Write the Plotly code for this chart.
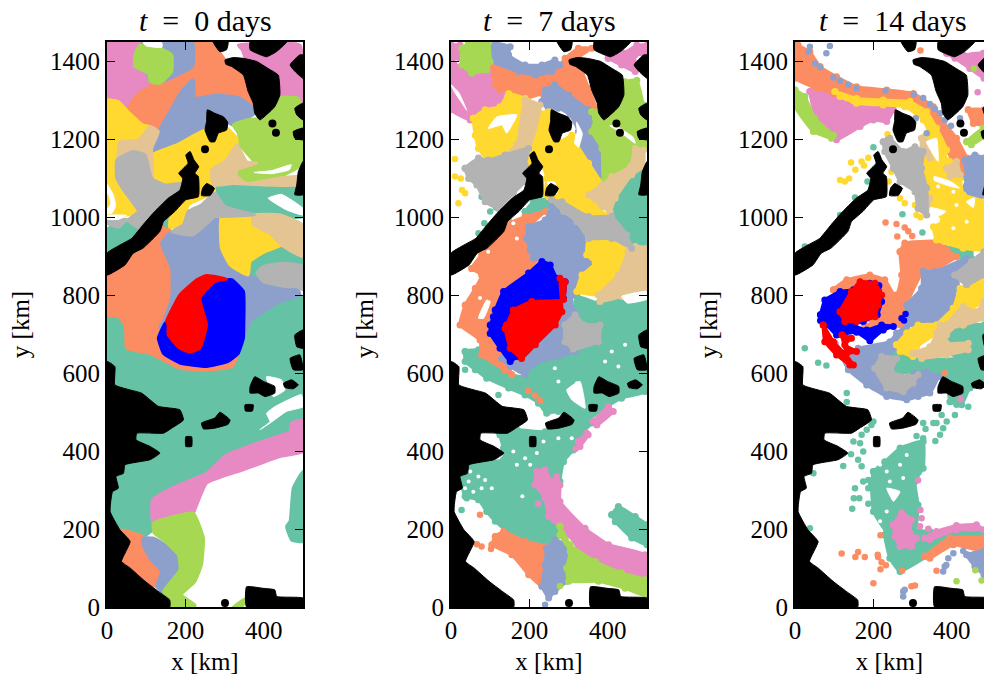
import plotly.graph_objects as go

# ---- colours
TEAL, ORANGE, PERI, PINK = "#66c2a5", "#fc8d62", "#8da0cb", "#e78ac3"
LIME, YELLOW, TAN, GRAY = "#a6d854", "#ffd92f", "#e5c494", "#b3b3b3"
BLUE, RED, LAND, GAP = "#0000ff", "#ff0000", "#000000", "#ffffff"

titles = ["0", "7", "14"]
y_ticks = [0, 200, 400, 600, 800, 1000, 1200, 1400]
x_ticks = [0, 200, 400]

# ---- land mask, km
land = [
 [(301,1404),(322,1410),(348,1408),(382,1400),(411,1382),(437,1365),(441,1314),(428,1284),(411,1267),(390,1250),(377,1267),(373,1293),(360,1323),(348,1365),(318,1387),(303,1393)],
 [(271,1450),(309,1450),(305,1430),(288,1425)],
 [(365,1450),(458,1450),(432,1425),(407,1412),(382,1421),(365,1430)],
 [(467,1391),(492,1417),(500,1417),(500,1357),(480,1374)],
 [(479,1280),(500,1293),(500,1250),(484,1263)],
 [(475,1220),(500,1229),(500,1199),(479,1203)],
 [(488,1117),(500,1143),(500,1058),(479,1058),(484,1083)],
 [(256,1276),(275,1267),(297,1258),(308,1244),(305,1224),(284,1216),(275,1194),(263,1194),(250,1224),(254,1246)],
 [(0,908),(33,929),(63,946),(92,981),(118,1011),(156,1049),(186,1070),(193,1100),(183,1113),(207,1139),(201,1160),(212,1169),(222,1147),(234,1130),(224,1113),(233,1105),(233,1053),(201,1045),(173,1015),(144,989),(135,964),(92,921),(67,908),(46,878),(0,852)],
 [(244,1075),(254,1087),(274,1075),(263,1056),(241,1056)],
 [(479,698),(500,711),(500,664),(484,668)],
 [(467,638),(492,647),(500,609),(475,609)],
 [(365,566),(377,591),(399,579),(428,566),(428,549),(403,540),(386,549),(365,549)],
 [(450,574),(471,583),(488,570),(475,560),(454,563)],
 [(352,519),(373,519),(371,503),(353,503)],
 [(241,472),(275,485),(288,500),(314,480),(309,469),(275,459),(246,457)],
 [(201,437),(216,437),(216,412),(201,412)],
 [(0,630),(20,617),(20,570),(59,557),(88,549),(131,515),(186,506),(195,480),(165,459),(144,446),(76,446),(74,429),(110,412),(135,395),(110,378),(46,365),(42,343),(23,335),(29,305),(14,296),(8,245),(33,198),(59,168),(37,117),(59,100),(97,66),(131,40),(160,18),(160,0),(0,0)],
 [(356,52),(398,48),(428,44),(433,27),(500,23),(500,0),(356,0)],
]
land_dots_x = [422, 431, 250, 301]
land_dots_y = [1241, 1217, 1175, 10]

# ---- t = 0 days, km
p1_teal = [
 [(0,750),(30,750),(46,730),(48,703),(50,664),(110,651),(135,638),(186,613),(246,608),(318,617),(335,651),(350,700),(365,733),(441,784),(492,801),(500,790),(500,450),(407,429),(305,390),(254,343),(165,305),(116,275),(118,200),(92,181),(33,198),(0,240)],
 [(280,1079),(322,1087),(484,1083),(500,1053),(500,1002),(377,1006),(301,1028),(284,1058)],
 [(0,970),(50,985),(100,1005),(160,1003),(162,975),(140,960),(90,925),(0,905)],
 [(360,852),(369,895),(441,925),(500,899),(500,874),(450,882),(399,874),(382,857),(399,835)],
 [(500,348),(475,305),(467,220),(458,207),(471,172),(500,168)],
]
p1_pink = [
 [(0,1450),(92,1450),(92,1430),(122,1340),(67,1314),(54,1280),(0,1301)],
 [(335,1442),(492,1442),(500,1293),(441,1300),(437,1365),(360,1390),(345,1430)],
 [(116,275),(165,305),(254,343),(305,390),(407,429),(467,450),(471,472),(500,480),(500,399),(441,386),(348,352),(254,318),(224,249),(220,241),(118,215)],
]
p1_orange = [
 [(218,1450),(267,1450),(301,1404),(348,1361),(360,1323),(380,1276),(339,1306),(280,1314),(224,1306),(220,1357)],
 [(54,1276),(76,1314),(118,1340),(144,1357),(182,1374),(216,1387),(216,1357),(190,1323),(165,1280),(135,1211),(92,1237)],
 [(0,875),(46,900),(67,925),(92,940),(135,975),(165,963),(139,934),(165,869),(165,793),(152,728),(135,681),(144,656),(186,621),(237,617),(280,617),(335,651),(318,617),(246,608),(186,613),(135,638),(110,651),(50,664),(48,703),(46,724),(30,745),(0,750)],
 [(33,198),(92,181),(92,164),(110,125),(139,91),(127,53),(97,66),(59,100),(37,117),(59,168)],
]
p1_peri = [
 [(92,1450),(218,1450),(218,1387),(139,1348),(110,1348)],
 [(220,1353),(224,1306),(280,1314),(339,1306),(382,1271),(322,1237),(309,1244),(275,1267),(256,1276),(250,1224),(212,1207),(178,1186),(131,1169),(116,1164),(118,1194),(165,1280),(190,1323)],
 [(165,963),(220,955),(275,1002),(292,1002),(292,921),(314,878),(360,852),(399,835),(458,822),(484,822),(492,801),(441,784),(365,733),(350,700),(300,700),(150,690),(135,720),(144,733),(165,793),(165,869),(139,934)],
 [(92,177),(118,177),(156,155),(186,125),(186,95),(160,66),(144,36),(127,53),(139,91),(110,125),(92,160)],
]
p1_lime = [
 [(71,1417),(84,1442),(144,1430),(165,1417),(165,1374),(135,1344),(110,1348),(105,1370),(71,1387)],
 [(322,1237),(356,1250),(386,1254),(428,1280),(441,1306),(488,1306),(500,1254),(500,1139),(484,1126),(433,1100),(356,1087),(331,1105),(331,1122),(377,1139),(339,1186),(335,1216)],
 [(118,215),(220,241),(246,177),(241,108),(224,65),(190,31),(224,6),(224,0),(156,0),(156,23),(144,40),(186,95),(182,134),(144,172),(120,190)],
 [(322,0),(356,23),(343,0)],
]
p1_yellow = [
 [(0,1301),(29,1297),(54,1271),(92,1237),(110,1233),(80,1198),(33,1194),(25,1147),(25,1100),(42,1070),(80,1015),(50,1006),(0,1006)],
 [(115,1160),(178,1186),(250,1224),(305,1229),(331,1203),(331,1186),(305,1147),(267,1122),(267,1083),(275,1066),(241,1049),(207,1032),(195,981),(160,974),(162,1002),(200,1040),(200,1087),(131,1083),(118,1100)],
 [(292,1002),(373,1006),(373,981),(416,959),(445,929),(403,912),(365,887),(360,852),(314,878),(292,921)],
]
p1_tan = [
 [(29,1173),(33,1194),(80,1198),(110,1233),(131,1220),(114,1177),(116,1100),(97,1160),(67,1169),(29,1147)],
 [(331,1186),(356,1143),(382,1139),(331,1122),(331,1105),(356,1087),(433,1100),(484,1105),(484,1083),(322,1087),(271,1083),(267,1122),(305,1147)],
 [(373,1006),(441,1006),(500,980),(500,899),(445,929),(416,959),(373,981)],
]
p1_gray = [
 [(25,1147),(67,1169),(97,1160),(114,1100),(148,1083),(195,1087),(165,1030),(125,990),(95,965),(54,993),(80,1015),(42,1070),(25,1100)],
 [(0,995),(50,995),(30,975),(0,985)],
 [(275,1062),(301,1028),(377,1006),(292,1002),(275,1002),(220,955),(165,963),(195,981),(207,1015),(241,1032)],
 [(382,857),(399,874),(450,882),(500,874),(500,814),(484,822),(458,822),(399,835)],
]
p1_blue = [[(237,793),(275,835),(318,840),(348,810),(349,724),(348,690),(335,651),(309,630),(254,617),(186,626),(144,651),(131,690),(148,728),(186,760)]]
p1_red = [[(152,733),(186,801),(229,840),(254,851),(305,842),(275,835),(237,793),(254,724),(237,664),(212,654),(186,664),(156,698),(156,724)]]
p1_gap = [
 [(92,1448),(140,1448),(140,1436),(100,1440)],
 [(0,1085),(15,1060),(22,1030),(12,1010),(0,1010),(0,1020),(10,1035),(5,1055),(0,1065)],
 [(0,1005),(50,1005),(30,995),(0,995)],
 [(390,455),(416,476),(407,497),(428,514),(496,545),(500,514),(458,502),(416,472)],
 [(407,591),(445,583),(454,557),(424,540)],
 [(411,1049),(445,1059),(500,1023),(500,1006),(458,1019)],
 [(375,1115),(420,1120),(470,1135),(465,1122),(420,1112)],
]

# ---- t = 7 days, km
p2_teal = [
 [(419,1049),(436,1092),(465,1109),(491,1130),(500,1130),(500,921),(474,921),(448,955),(410,1015)],
 [(189,1015),(210,1040),(249,1049),(257,1032),(227,1015),(202,1015)],
 [(321,797),(376,780),(427,792),(500,810),(500,724),(385,724),(325,724),(312,750)],
 [(36,656),(70,660),(95,638),(130,626),(155,596),(197,591),(206,621),(274,643),(321,656),(359,681),(380,703),(359,724),(495,724),(495,553),(435,536),(385,506),(342,476),(317,485),(274,502),(244,497),(223,523),(189,544),(147,562),(91,587),(62,609),(36,630)],
 [(125,442),(168,455),(240,450),(274,467),(325,476),(359,472),(338,450),(312,403),(287,373),(278,322),(274,271),(291,211),(278,185),(265,168),(240,155),(189,172),(147,190),(113,220),(91,245),(70,275),(36,284),(23,339),(45,365),(95,373),(134,378),(134,408)],
 [(410,237),(427,258),(470,232),(500,211),(500,160),(461,177),(419,219)],
]
p2_teal_x = [53,78,70,85,100,115,147,406,121,36,27,40,95,110,118,60,75,49]
p2_teal_y = [1099,1053,959,985,1015,1025,993,780,544,609,249,279,350,340,330,330,315,300]
p2_pink = [
 [(6,1395),(0,1395),(0,1276),(49,1250),(70,1276),(125,1284),(134,1323),(108,1357),(95,1378),(36,1382)],
 [(401,1408),(440,1421),(474,1442),(500,1442),(500,1417),(470,1417),(470,1374),(435,1391)],
 [(0,1442),(23,1442),(23,1408),(0,1408)],
 [(219,348),(240,352),(257,322),(270,335),(278,313),(278,271),(342,202),(402,160),(495,134),(500,74),(435,87),(368,117),(325,151),(300,185),(249,232),(240,279),(215,314)],
 [(363,476),(402,514),(414,502),(372,467)],
 [(325,425),(346,446),(350,442),(329,412)],
]
p2_pink_x = [318, 222]
p2_pink_y = [406, 265]
p2_orange = [
 [(104,1395),(172,1374),(215,1365),(257,1374),(278,1391),(291,1408),(325,1434),(359,1434),(325,1412),(304,1400),(334,1374),(351,1331),(372,1276),(351,1276),(300,1314),(257,1340),(232,1318),(189,1305),(151,1323),(125,1327),(113,1340)],
 [(53,869),(78,904),(134,959),(147,984),(189,1002),(240,1015),(198,976),(193,946),(202,917),(240,887),(198,861),(134,810),(112,775),(100,724),(125,673),(155,596),(138,608),(78,647),(74,685),(23,724),(36,775),(62,818),(78,852)],
 [(113,181),(134,194),(189,168),(244,155),(240,108),(232,53),(198,83),(155,134),(104,160)],
]
p2_orange_x = [74,66,78,102,197,215,227,138]
p2_orange_y = [237,161,155,149,555,543,529,617]
p2_peri = [
 [(83,1425),(113,1447),(151,1438),(147,1417),(189,1391),(232,1391),(265,1404),(278,1391),(257,1374),(215,1365),(172,1374),(95,1404)],
 [(232,1297),(240,1327),(265,1340),(300,1314),(351,1276),(363,1263),(359,1220),(385,1177),(393,1117),(380,1087),(363,1126),(334,1169),(321,1186),(325,1220),(304,1263),(274,1280),(249,1276)],
 [(198,976),(240,993),(257,1028),(287,1015),(321,989),(351,946),(346,904),(368,882),(334,852),(321,810),(304,784),(317,754),(291,724),(317,656),(274,643),(206,621),(189,596),(151,617),(129,638),(155,672),(250,800),(257,887),(210,895),(202,917),(193,946)],
 [(244,151),(265,172),(295,160),(304,134),(295,66),(265,40),(249,23),(232,53),(240,108)],
]
p2_peri_x = [240]
p2_peri_y = [6]
p2_lime = [
 [(28,1434),(45,1447),(95,1447),(100,1400),(91,1378),(53,1370),(28,1391)],
 [(359,1271),(385,1280),(435,1314),(444,1348),(474,1352),(491,1288),(500,1254),(495,1177),(457,1130),(410,1105),(389,1096),(385,1177),(359,1220),(368,1254)],
 [(278,207),(304,160),(368,117),(435,87),(495,70),(500,27),(444,48),(376,66),(300,66),(295,100),(304,143),(278,185)],
]
p2_lime_x = [278]
p2_lime_y = [54]
p2_yellow = [
 [(57,1254),(87,1276),(125,1284),(147,1318),(189,1305),(198,1297),(168,1186),(95,1147),(70,1177),(62,1211)],
 [(227,1267),(249,1271),(257,1220),(278,1194),(308,1211),(321,1186),(351,1139),(385,1083),(359,1049),(393,1006),(351,1002),(283,1040),(249,1053),(240,1058),(244,1100),(236,1130),(227,1152),(202,1139),(193,1134),(198,1177)],
 [(351,946),(410,946),(452,912),(427,852),(376,801),(321,810),(334,852),(368,882),(346,904)],
]
p2_yellow_x = [10,10,25,28,19,36,351]
p2_yellow_y = [1150,1105,1100,1070,1036,1062,1133]
p2_tan = [
 [(189,1301),(227,1288),(198,1177),(138,1160),(168,1186)],
 [(470,1177),(491,1173),(491,1130),(461,1109),(419,1049),(406,1015),(385,1028),(351,1058),(385,1083),(410,1105),(457,1130)],
 [(452,912),(470,925),(500,921),(500,810),(436,797),(380,784),(376,801),(427,852)],
]
p2_gray = [
 [(36,1126),(70,1152),(95,1147),(138,1160),(198,1177),(189,1134),(189,1092),(159,1062),(121,1023),(87,1040),(66,1083),(45,1100)],
 [(257,1045),(283,1040),(351,1002),(410,1002),(448,955),(461,921),(410,946),(351,946),(321,989),(287,1015)],
 [(291,724),(291,681),(312,662),(376,681),(380,724),(340,724),(317,750)],
]
p2_blue = [[(113,762),(134,810),(198,857),(232,887),(253,878),(270,844),(291,835),(287,792),(206,784),(176,775),(147,741),(138,724),(138,715),(151,664),(168,643),(151,630),(125,664),(100,702),(100,724),(108,745)]]
p2_red = [[(142,724),(159,762),(206,784),(287,789),(291,835),(278,844),(283,758),(266,724),(215,673),(180,638),(151,664),(138,715)]]
p2_gap = [
 [(95,1228),(117,1258),(168,1263),(142,1216),(130,1237)],
 [(295,557),(329,579),(342,510),(308,532)],
 [(70,741),(91,788),(100,784),(83,741)],
 [(0,1340),(20,1320),(40,1275),(30,1290),(10,1320)],
 [(320,1245),(335,1215),(325,1180),(315,1190),(322,1220)],
 [(245,1090),(265,1090),(270,1060),(255,1075)],
 [(405,1235),(430,1220),(470,1190),(465,1205),(420,1235)],
 [(435,797),(500,810),(500,790),(450,780)],
]
p2_gap_x = [49,70,45,87,57,104,36,78,189,202,159,168,182,219,236,274,308,274,321,427,393,410,444,265,159,168,95,74]
p2_gap_y = [348,335,322,326,296,305,305,305,382,365,399,365,284,395,425,433,433,579,574,617,630,656,673,613,985,946,912,793]

# ---- t = 14 days, km
p3_teal = [
 [(225,638),(259,664),(314,638),(412,638),(438,647),(482,638),(482,579),(446,562),(425,519),(395,527),(387,583),(365,596),(301,600),(246,604),(242,626)],
 [(387,703),(438,724),(482,724),(482,638),(404,651),(395,681)],
 [(382,921),(450,929),(450,895),(412,899)],
 [(229,185),(242,202),(344,194),(482,194),(482,177),(412,168),(344,134),(268,91),(242,125)],
 [(200,348),(229,373),(268,408),(327,425),(327,356),(306,322),(314,262),(306,194),(234,194),(200,245),(195,314)],
]
p3_teal_x = [25,59,80,132,132,200,195,183,170,149,166,174,143,123,161,170,174,187,153,187,150,164,187,146,47,38,327,333,310,327,378,370,358,361,387,408,374,412,442,353,200,238,238,185,153,115,25,274,325,367]
p3_teal_y = [664,627,620,549,526,476,467,455,442,425,420,399,392,362,378,361,322,326,305,305,279,279,265,252,343,202,472,457,439,433,459,442,426,472,476,493,493,519,514,472,1180,1164,1203,1092,1051,1006,925,1008,961,935]
p3_pink = [
 [(38,1323),(51,1344),(98,1310),(157,1284),(225,1288),(251,1276),(234,1246),(200,1250),(166,1233),(106,1199),(81,1216),(51,1263)],
 [(387,1421),(429,1417),(480,1421),(482,1357),(446,1382),(408,1408)],
 [(331,177),(361,194),(412,209),(463,211),(482,198),(412,198),(344,173)],
 [(251,211),(272,241),(297,224),(293,190),(310,177),(297,155),(268,155),(255,181)],
]
p3_pink_x = [314,320,323,319,340,423,466]
p3_pink_y = [325,249,228,207,201,533,1321]
p3_orange = [
 [(0,1450),(8,1442),(38,1425),(64,1387),(106,1361),(157,1335),(234,1327),(302,1318),(353,1284),(378,1246),(412,1203),(438,1152),(429,1109),(412,1126),(387,1173),(361,1229),(336,1263),(293,1288),(225,1301),(140,1301),(98,1318),(55,1331),(0,1357)],
 [(442,1276),(482,1276),(482,1237),(455,1241)],
 [(268,912),(280,934),(361,938),(387,917),(412,899),(361,869),(327,861),(285,775),(285,750),(268,724),(225,733),(208,784),(259,801),(272,852)],
 [(98,814),(132,840),(191,852),(229,840),(251,801),(242,758),(208,724)],
 [(178,724),(242,724),(225,711),(183,705)],
 [(331,130),(395,177),(482,177),(482,143),(404,160),(344,125)],
]
p3_orange_x = [231,259,280,289,261,299,119,161,154,178,211,212,221,232,218,200,218,273,361,297,306,382,320]
p3_orange_y = [987,983,974,964,951,952,137,141,128,128,134,128,115,107,97,61,184,93,93,53,55,600,1428]
p3_peri = [
 [(433,1147),(459,1160),(482,1152),(482,1002),(429,1023),(391,1058),(425,1066),(438,1100)],
 [(327,861),(357,861),(438,895),(450,887),(412,827),(395,733),(285,724),(285,775),(323,818)],
 [(102,677),(123,647),(161,664),(242,681),(259,703),(285,720),(293,694),(259,664),(225,638),(204,613),(234,562),(276,553),(314,574),(306,600),(336,604),(365,591),(344,549),(314,540),(285,532),(234,540),(183,570),(136,609)],
 [(438,134),(482,143),(482,83),(459,104)],
]
p3_peri_x = [38,80,89,34,51,64,98,115,136,157,231,303,327,344,357,370,382,398,421,336,308,404,429,391,382,386,378,276,280,276]
p3_peri_y = [1438,1421,1440,1425,1395,1385,1359,1350,1340,1331,1325,1316,1306,1291,1278,1267,1250,1235,1254,1216,1254,138,144,125,104,108,91,40,44,27]
p3_lime = [
 [(0,1327),(25,1310),(51,1254),(98,1211),(93,1203),(47,1220),(0,1284)],
 [(438,1194),(480,1229),(482,1207),(450,1186)],
]
p3_lime_x = [456,460,412,476]
p3_lime_y = [1382,94,66,68]
p3_yellow = [
 [(102,1323),(157,1305),(225,1301),(293,1297),(336,1271),(361,1229),(387,1173),(370,1126),(353,1186),(327,1250),(280,1284),(225,1288),(157,1293),(115,1310)],
 [(331,1207),(353,1211),(370,1169),(395,1143),(421,1100),(429,1058),(482,1040),(482,917),(429,921),(361,942),(353,976),(378,989),(344,1040),(331,1083),(331,1143)],
 [(404,767),(421,818),(446,831),(482,852),(482,792),(446,758),(429,724),(361,724)],
 [(259,673),(285,703),(314,724),(361,724),(361,703),(310,668),(301,643),(268,656)],
]
p3_yellow_x = [143,154,170,187,176,115,127,138,236,246,239,280,299,268,280,306,310,314,320]
p3_yellow_y = [1141,1122,1143,1153,1133,1096,1092,1100,1213,1117,1092,1090,1079,1049,1036,1032,1006,1094,1000]
p3_tan = [
 [(323,1203),(340,1194),(344,1152),(323,1169)],
 [(387,1126),(412,1143),(421,1109),(395,1105)],
 [(327,1058),(344,1049),(340,1023),(327,1023)],
 [(387,724),(429,771),(463,758),(482,784),(482,741),(429,724)],
 [(301,651),(344,668),(361,703),(370,724),(412,724),(387,698),(387,677),(442,677),(442,660),(387,647),(323,638)],
]
p3_gray = [
 [(225,1194),(242,1203),(276,1169),(306,1181),(327,1169),(323,1126),(336,1075),(336,1006),(314,1023),(306,1066),(268,1092),(251,1126),(229,1169)],
 [(408,852),(450,887),(482,912),(482,852),(438,827)],
 [(204,613),(221,643),(259,638),(246,604),(289,591),(314,596),(301,574),(276,553),(234,562)],
]
p3_blue = [
 [(65,750),(76,788),(115,810),(149,814),(191,831),(214,825),(221,784),(210,750),(174,733),(149,724),(183,711),(221,724),(251,720),(225,711),(191,683),(157,705),(106,698),(81,724),(65,735)],
]
p3_blue_x = [272,282,278]
p3_blue_y = [741,752,735]
p3_red = [
 [(115,758),(144,810),(166,835),(204,831),(221,801),(212,775),(204,745),(157,733),(127,733)],
 [(72,724),(98,681),(127,651),(149,621),(140,621),(106,647),(76,681)],
 [(120,698),(144,690),(127,673),(157,656),(132,651)],
]
p3_gap = [
 [(335,1194),(361,1203),(365,1143),(348,1169)],
 [(355,1105),(400,1090),(420,1075),(395,1080),(355,1095)],
 [(345,1025),(385,1015),(370,1005),(345,1010)],
 [(437,1040),(458,1050),(455,1025)],
 [(234,305),(268,296),(251,271)],
]
p3_gap_x = [217,234,242,268,285,234,217,276,387,404,365,412,353,404,438]
p3_gap_y = [365,348,322,365,390,245,220,331,1092,1066,1079,1032,998,972,989]


def xy(polys):
    xs, ys = [], []
    for poly in polys:
        for a, b in poly:
            xs.append(a)
            ys.append(b)
        xs.append(poly[0][0])
        ys.append(poly[0][1])
        xs.append(None)
        ys.append(None)
    return xs, ys


def area(fig, polys, colour, n, width, bumps=False):
    xs, ys = xy(polys)
    fig.add_trace(go.Scatter(x=xs, y=ys, mode="lines+markers" if bumps else "lines", fill="toself", fillcolor=colour,
                             line=dict(color=colour, width=width, shape="spline", smoothing=0.4),
                             marker=dict(color=colour, size=7),
                             hoverinfo="skip", showlegend=False, xaxis=f"x{n}", yaxis=f"y{n}"))


def dots(fig, xs, ys, colour, n, size=6.5):
    fig.add_trace(go.Scatter(x=xs, y=ys, mode="markers", marker=dict(color=colour, size=size),
                             hoverinfo="skip", showlegend=False, xaxis=f"x{n}", yaxis=f"y{n}"))


fig = go.Figure()

# panel 1
for polys, colour in [(p1_teal, TEAL), (p1_pink, PINK), (p1_orange, ORANGE), (p1_peri, PERI), (p1_lime, LIME),
                      (p1_yellow, YELLOW), (p1_tan, TAN), (p1_gray, GRAY), (p1_blue, BLUE), (p1_red, RED)]:
    area(fig, polys, colour, 1, 3)
area(fig, p1_gap, GAP, 1, 1)

# panel 2
for polys, colour, xs, ys in [
    (p2_teal, TEAL, p2_teal_x, p2_teal_y), (p2_pink, PINK, p2_pink_x, p2_pink_y),
    (p2_orange, ORANGE, p2_orange_x, p2_orange_y), (p2_peri, PERI, p2_peri_x, p2_peri_y),
    (p2_lime, LIME, p2_lime_x, p2_lime_y), (p2_yellow, YELLOW, p2_yellow_x, p2_yellow_y),
    (p2_tan, TAN, [], []), (p2_gray, GRAY, [], []), (p2_blue, BLUE, [], []), (p2_red, RED, [], [])]:
    area(fig, polys, colour, 2, 3, bumps=True)
    if xs:
        dots(fig, xs, ys, colour, 2)
area(fig, p2_gap, GAP, 2, 1)
dots(fig, p2_gap_x, p2_gap_y, GAP, 2, size=4)

# panel 3
for polys, colour, xs, ys in [
    (p3_teal, TEAL, p3_teal_x, p3_teal_y), (p3_pink, PINK, [], []),
    (p3_orange, ORANGE, p3_orange_x, p3_orange_y), (p3_peri, PERI, [], []),
    (p3_lime, LIME, p3_lime_x, p3_lime_y), (p3_yellow, YELLOW, p3_yellow_x, p3_yellow_y),
    (p3_tan, TAN, [], []), (p3_gray, GRAY, [], [])]:
    area(fig, polys, colour, 3, 3, bumps=True)
    if xs:
        dots(fig, xs, ys, colour, 3)
area(fig, p3_gap, GAP, 3, 1)
dots(fig, p3_gap_x, p3_gap_y, GAP, 3, size=4)
area(fig, p3_blue, BLUE, 3, 3, bumps=True)
dots(fig, p3_blue_x, p3_blue_y, BLUE, 3)
area(fig, p3_red, RED, 3, 3, bumps=True)
dots(fig, p3_pink_x, p3_pink_y, PINK, 3)
dots(fig, p3_peri_x, p3_peri_y, PERI, 3)

# land on top, in all three panels
for n in (1, 2, 3):
    area(fig, land, LAND, n, 1)
    dots(fig, land_dots_x, land_dots_y, LAND, n, size=8)

W, H = 984, 675
font = "Liberation Serif"
lefts = [107, 451, 795]
axis = dict(showgrid=False, zeroline=False, showline=True, linecolor="black", linewidth=2,
            ticks="inside", ticklen=8, tickwidth=1, tickcolor="black", automargin=False,
            tickfont=dict(family=font, size=25, color="black"), layer="above traces")
layout = dict(width=W, height=H, margin=dict(l=0, r=0, t=0, b=0, autoexpand=False), paper_bgcolor="white",
              plot_bgcolor="white", showlegend=False, font=dict(family=font, color="black"))
annotations = []
for i, (left, t) in enumerate(zip(lefts, titles)):
    s = "" if i == 0 else str(i + 1)
    right = min(left + 196, W)
    layout[f"xaxis{s}"] = dict(axis, domain=[left / W, right / W], range=[0, (right - left) * 500 / 196],
                               tickvals=x_ticks, anchor=f"y{s}", mirror="ticks",
                               title=dict(text="x [km]", font=dict(family=font, size=25), standoff=11))
    layout[f"yaxis{s}"] = dict(axis, domain=[(H - 607) / H, (H - 42) / H], range=[0, 1450],
                               tickvals=y_ticks, anchor=f"x{s}", mirror="ticks" if i < 2 else False,
                               title=dict(text="y [km]", font=dict(family=font, size=25), standoff=13))
    annotations.append(dict(text=f"<i>t</i>\u2002=\u2002{t} days", x=(left + 98) / W, y=(H - 39) / H,
                            xref="paper", yref="paper", xanchor="center", yanchor="bottom",
                            showarrow=False, font=dict(family=font, size=30, color="black")))
layout["annotations"] = annotations
fig.update_layout(**layout)
fig.write_html("out.html", config=dict(displayModeBar=False), post_script="document.body.style.margin='0';")
